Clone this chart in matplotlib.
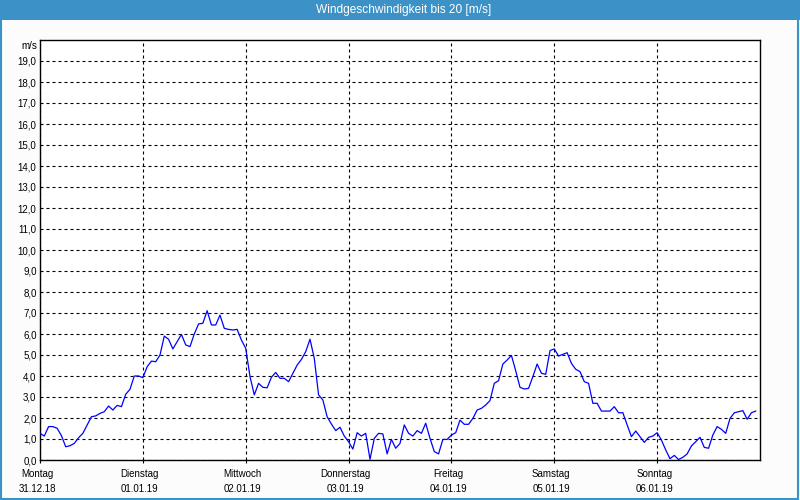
import matplotlib
matplotlib.use("Agg")
import matplotlib.pyplot as plt
import matplotlib.transforms as mtransforms
from matplotlib.patches import Rectangle
import numpy as np

title = "Windgeschwindigkeit bis 20 [m/s]"
unit = "m/s"
weekdays = ["Montag", "Dienstag", "Mittwoch", "Donnerstag", "Freitag", "Samstag", "Sonntag"]
dates = ["31.12.18", "01.01.19", "02.01.19", "03.01.19", "04.01.19", "05.01.19", "06.01.19"]

# hourly wind speed [m/s], one row per day
day0 = [1.27, 1.14, 1.59, 1.59, 1.51, 1.16, 0.63, 0.68, 0.79, 1.06, 1.27, 1.67,
        2.06, 2.10, 2.22, 2.30, 2.57, 2.38, 2.60, 2.54, 3.13, 3.37, 4.00, 4.00]
day1 = [3.92, 4.44, 4.71, 4.68, 5.00, 5.90, 5.75, 5.29, 5.63, 5.98, 5.48, 5.40,
        6.00, 6.48, 6.51, 7.11, 6.43, 6.43, 6.90, 6.27, 6.22, 6.19, 6.22, 5.71]
day2 = [5.32, 3.97, 3.10, 3.65, 3.46, 3.44, 3.94, 4.17, 3.89, 3.89, 3.73, 4.13,
        4.52, 4.79, 5.16, 5.75, 4.84, 3.10, 2.86, 2.06, 1.71, 1.40, 1.56, 1.14]
day3 = [0.87, 0.52, 1.30, 1.14, 1.27, 0.03, 1.03, 1.27, 1.24, 0.29, 0.98, 0.56,
        0.79, 1.67, 1.27, 1.14, 1.40, 1.27, 1.75, 1.03, 0.40, 0.29, 0.98, 0.98]
day4 = [1.19, 1.30, 1.90, 1.70, 1.70, 1.98, 2.38, 2.46, 2.62, 2.83, 3.65, 3.78,
        4.57, 4.76, 4.98, 4.25, 3.46, 3.38, 3.41, 3.97, 4.57, 4.13, 4.08, 5.21]
day5 = [5.29, 4.95, 5.03, 5.11, 4.60, 4.32, 4.21, 3.73, 3.65, 2.70, 2.70, 2.33,
        2.33, 2.33, 2.54, 2.25, 2.25, 1.67, 1.11, 1.38, 1.11, 0.84, 1.08, 1.14]
day6 = [1.30, 0.95, 0.48, 0.06, 0.22, 0.02, 0.13, 0.29, 0.67, 0.87, 1.08, 0.60,
        0.56, 1.19, 1.59, 1.46, 1.27, 1.98, 2.25, 2.30, 2.35, 1.94, 2.25, 2.33]

wind = day0 + day1 + day2 + day3 + day4 + day5 + day6
hours = np.arange(len(wind))

plt.rcParams["font.family"] = ["Liberation Sans", "DejaVu Sans"]

bg = "#fbfcfb"
bar_color = "#3c92c6"

fig = plt.figure(figsize=(8, 5), dpi=100, facecolor=bg)

# title bar + outer frame
fig.patches.append(Rectangle((0, 1 - 20 / 500), 1, 20 / 500, transform=fig.transFigure,
                             facecolor=bar_color, edgecolor="none", zorder=0))
fig.patches.append(Rectangle((0.001, 0.003), 0.997, 0.99, transform=fig.transFigure,
                             facecolor="none", edgecolor=bar_color, lw=1.5, zorder=1))
fig.text(0.505, 1 - 10 / 500, title, color="white", fontsize=8.6, ha="center", va="center")

ax = fig.add_axes([0.05, 0.08, 0.9, 0.84])
ax.set_facecolor("white")
ax.plot(hours, wind, color="#0000ff", lw=0.9, zorder=3)

ax.set_xlim(0, 168)
ax.set_ylim(0, 20)

ax.set_yticks(np.arange(0, 20))
ax.set_yticklabels([f"{v},0" for v in range(20)])
ax.set_xticks(np.arange(0, 168, 24))
ax.set_xticklabels([f"{d}\n{t}" for d, t in zip(weekdays, dates)], linespacing=1.55)

ax.tick_params(axis="y", length=0, pad=2.5, labelsize=7, colors="black")
ax.tick_params(axis="x", length=2.2, width=0.8, pad=4.5, labelsize=7, colors="black")

shift = mtransforms.ScaledTranslation(-3 / 100, 0, fig.dpi_scale_trans)
for lbl in ax.get_xticklabels():
    lbl.set_transform(lbl.get_transform() + shift)

ax.grid(True, color="black", lw=0.8, linestyle=(0, (2.7, 2.7)), zorder=1)
for s in ax.spines.values():
    s.set_color("black")
    s.set_linewidth(1.0)

ax.text(-0.004, 19.95, unit, transform=ax.get_yaxis_transform(), ha="right", va="top",
        fontsize=7)

fig.savefig("out.png", dpi=100, facecolor=bg)
